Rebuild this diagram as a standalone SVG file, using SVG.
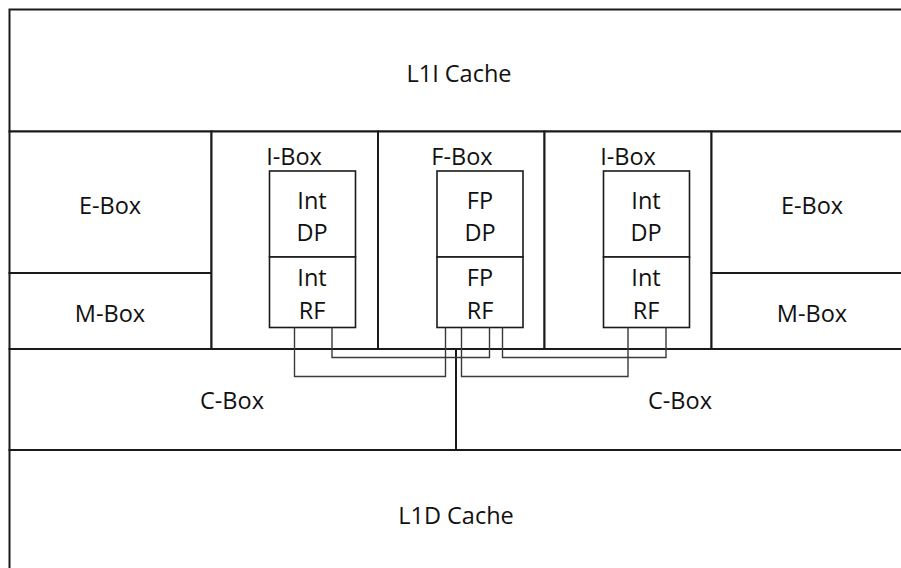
<svg xmlns="http://www.w3.org/2000/svg" width="901" height="568" viewBox="0 0 901 568">
<style>
.b{fill:#fff;stroke:#1a1a1a;stroke-width:2}
.u{fill:#fff;stroke:#1a1a1a;stroke-width:1.6}
.w{fill:none;stroke:#3a3a3a;stroke-width:1.4}
text{font-family:"Open Sans","Liberation Sans",sans-serif;font-size:23.5px;fill:#111;text-anchor:middle;dominant-baseline:central}
</style>
<rect width="901" height="568" fill="#fff"/>
<g id="l1i"><rect class="b" x="9.5" y="9.5" width="900" height="122"/><text x="459" y="73">L1I Cache</text></g>
<g id="ebox-left"><rect class="b" x="9.5" y="131.5" width="202" height="141.5"/><text x="110" y="205">E-Box</text></g>
<g id="mbox-left"><rect class="b" x="9.5" y="273" width="202" height="76"/><text x="110" y="313">M-Box</text></g>
<g id="ibox-left"><rect class="b" x="211.5" y="131.5" width="166.5" height="217.5"/><text x="294" y="155.5">I-Box</text></g>
<g id="fbox"><rect class="b" x="378" y="131.5" width="166.5" height="217.5"/><text x="462" y="155.5">F-Box</text></g>
<g id="ibox-right"><rect class="b" x="544.5" y="131.5" width="167" height="217.5"/><text x="628" y="155.5">I-Box</text></g>
<g id="ebox-right"><rect class="b" x="711.5" y="131.5" width="198" height="141.5"/><text x="812" y="205">E-Box</text></g>
<g id="mbox-right"><rect class="b" x="711.5" y="273" width="198" height="76"/><text x="812" y="313">M-Box</text></g>
<g id="cbox-left"><rect class="b" x="9.5" y="349" width="446.5" height="101"/><text x="232" y="400">C-Box</text></g>
<g id="cbox-right"><rect class="b" x="456" y="349" width="453.5" height="101"/><text x="680" y="400">C-Box</text></g>
<g id="l1d"><rect class="b" x="9.5" y="450" width="900" height="130"/><text x="456" y="515">L1D Cache</text></g>
<g id="int-dp-left"><rect class="u" x="269.5" y="171" width="86" height="86"/><text x="312" y="199.5">Int</text><text x="312" y="231.5">DP</text></g>
<g id="int-rf-left"><rect class="u" x="269.5" y="257" width="86" height="70.5"/><text x="312" y="277">Int</text><text x="312" y="310">RF</text></g>
<g id="fp-dp"><rect class="u" x="437" y="171" width="86" height="86"/><text x="480" y="199.5">FP</text><text x="480" y="231.5">DP</text></g>
<g id="fp-rf"><rect class="u" x="437" y="257" width="86" height="70.5"/><text x="480" y="277">FP</text><text x="480" y="310">RF</text></g>
<g id="int-dp-right"><rect class="u" x="603.5" y="171" width="86" height="86"/><text x="646" y="199.5">Int</text><text x="646" y="231.5">DP</text></g>
<g id="int-rf-right"><rect class="u" x="603.5" y="257" width="86" height="70.5"/><text x="646" y="277">Int</text><text x="646" y="310">RF</text></g>
<g id="connectors">
<path class="w" d="M294.5 327.5V376.5H445.5V327.5"/>
<path class="w" d="M332 327.5V357.5H489.5V327.5"/>
<path class="w" d="M461.5 327.5V376.5H628V327.5"/>
<path class="w" d="M502.5 327.5V357.5H666V327.5"/>
</g>
</svg>
